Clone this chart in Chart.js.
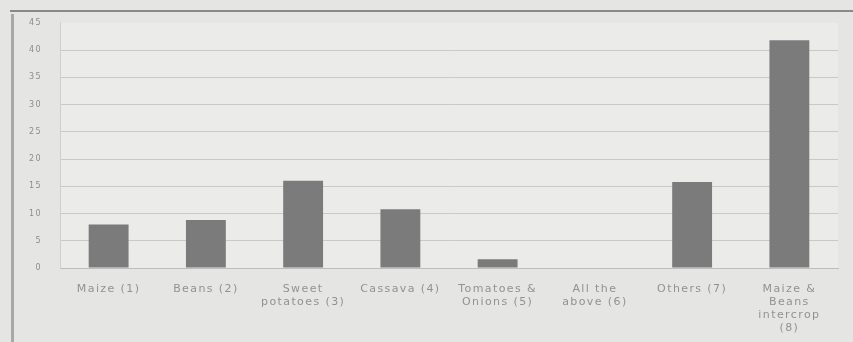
<!DOCTYPE html>
<html>
<head>
<meta charset="utf-8">
<script src="https://cdn.jsdelivr.net/npm/chart.js@4/dist/chart.umd.min.js"></script>
<style>
  html, body { margin: 0; padding: 0; background: #e5e5e3; }
  #wrap { position: relative; width: 853px; height: 342px; }
  canvas { display: block; }
</style>
</head>
<body>
<div id="wrap"><canvas id="chart" width="853" height="342"></canvas></div>
<script>
// Crop types grown (percentage of respondents)
const categories = [
  'Maize (1)',
  'Beans (2)',
  ['Sweet', 'potatoes (3)'],
  'Cassava (4)',
  ['Tomatoes &', 'Onions (5)'],
  ['All the', 'above (6)'],
  'Others (7)',
  ['Maize &', 'Beans', 'intercrop', '(8)']
];
const percentages = [8, 8.8, 16, 10.8, 1.6, 0, 15.8, 41.8];
const yTicks = [0, 5, 10, 15, 20, 25, 30, 35, 40, 45];

// Page frame: dark rule along the top and a soft bar down the left side,
// plus a lighter plot background and wider letter spacing for the labels
const framePlugin = {
  id: 'frame',
  beforeDraw(chart) {
    const ctx = chart.ctx;
    const a = chart.chartArea;
    ctx.save();
    ctx.fillStyle = '#ebebea';
    ctx.fillRect(a.left, a.top, a.right - a.left, a.bottom - a.top);
    ctx.restore();
    ctx.letterSpacing = '1.4px';
  },
  afterDraw(chart) {
    const ctx = chart.ctx;
    ctx.letterSpacing = '0px';
    ctx.save();
    ctx.fillStyle = '#8a8a8a';
    ctx.fillRect(10, 10, 843, 2);
    ctx.fillStyle = '#a8a8a8';
    ctx.fillRect(11, 14, 3, 328);
    ctx.restore();
  }
};

new Chart(document.getElementById('chart'), {
  type: 'bar',
  data: {
    labels: categories,
    datasets: [{
      data: percentages,
      backgroundColor: '#7b7b7b',
      borderWidth: 0,
      categoryPercentage: 1.0,
      barPercentage: 0.41
    }]
  },
  options: {
    responsive: false,
    animation: false,
    layout: { padding: { left: 14, right: 15, top: 8, bottom: 4 } },
    plugins: {
      legend: { display: false },
      tooltip: { enabled: false }
    },
    scales: {
      x: {
        grid: { display: false },
        border: { color: '#bdbdbd', width: 1 },
        ticks: {
          color: '#929292',
          font: { family: 'DejaVu Sans', size: 11, lineHeight: 1.18 },
          maxRotation: 0,
          autoSkip: false,
          padding: 7
        },
        afterFit(scale) { scale.height = 70; }
      },
      y: {
        min: 0,
        max: 45,
        afterBuildTicks(scale) {
          scale.ticks = yTicks.map(v => ({ value: v }));
        },
        grid: {
          color(ctx) { return ctx.tick && ctx.tick.value === 45 ? 'rgba(0,0,0,0)' : '#c9c9c8'; },
          lineWidth: 1,
          drawTicks: false
        },
        border: { color: '#cfcfcf', width: 1 },
        ticks: {
          color: '#8c8c8c',
          font: { family: 'DejaVu Sans', size: 8 },
          padding: 18,
          align: 'center'
        },
        afterFit(scale) { scale.width = 46; }
      }
    }
  },
  plugins: [framePlugin]
});
</script>
</body>
</html>
